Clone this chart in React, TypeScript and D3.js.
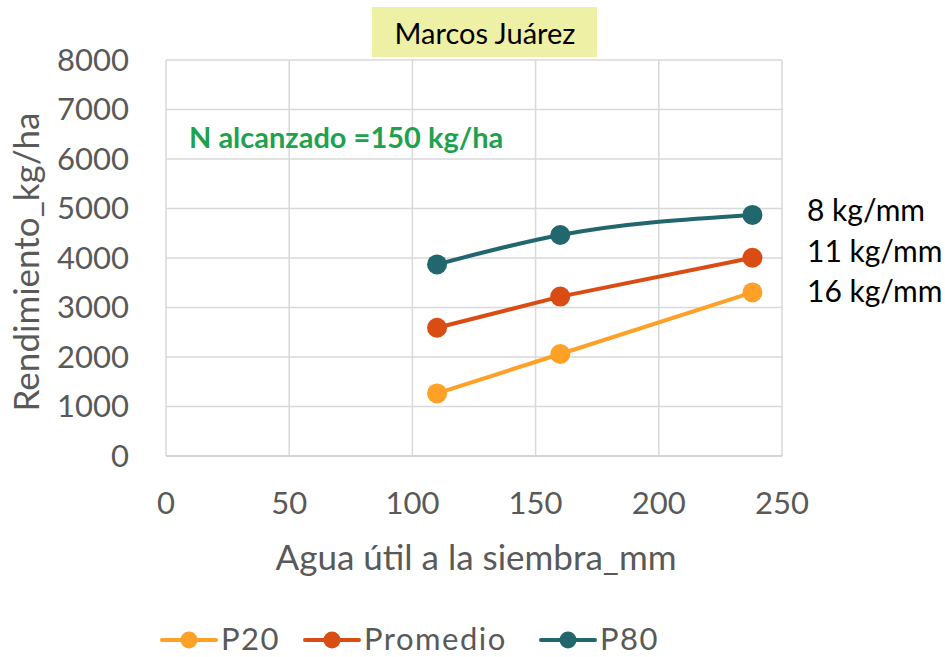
import React from "react";
import * as d3 from "d3";

const xValues = [110, 160, 238];
const p20 = [1265, 2060, 3305];
const promedio = [2590, 3220, 4005];
const p80 = [3870, 4465, 4870];
const xTicks = [0, 50, 100, 150, 200, 250];
const yTicks = [0, 1000, 2000, 3000, 4000, 5000, 6000, 7000, 8000];
const seriesNames = ["P20", "Promedio", "P80"];
const seriesColors = ["#FFA126", "#D94D14", "#22666E"];
const slopeLabels = ["8 kg/mm", "11 kg/mm", "16 kg/mm"];

const FONT = "Lato, 'Open Sans', sans-serif";

export default function App() {
  const W = 945, H = 657;
  const x = d3.scaleLinear().domain([0, 250]).range([166, 782]);
  const y = d3.scaleLinear().domain([0, 8000]).range([456, 60]);
  const data = [p20, promedio, p80];
  const curves = [d3.curveLinear, d3.curveLinear, d3.curveMonotoneX];
  const legendX = [162, 305, 541];

  return (
    <svg width={W} height={H} style={{ position: "absolute", left: 0, top: 0, background: "#fff" }} fontFamily={FONT}>
      <rect x={0} y={0} width={W} height={H} fill="#fff" />
      {/* grid */}
      {yTicks.map((t) => (
        <line key={"gy" + t} x1={x(0)} x2={x(250)} y1={y(t)} y2={y(t)} stroke="#D9D9D9" strokeWidth={1.5} />
      ))}
      {xTicks.map((t) => (
        <line key={"gx" + t} x1={x(t)} x2={x(t)} y1={y(0)} y2={y(8000)} stroke="#D9D9D9" strokeWidth={1.5} />
      ))}
      <line x1={x(0)} x2={x(250)} y1={y(0)} y2={y(0)} stroke="#D0D0D0" strokeWidth={1.5} />
      {/* tick labels */}
      {yTicks.map((t) => (
        <text key={"ty" + t} x={129} y={y(t)} dy="0.35em" textAnchor="end" fontSize={31} fill="#595959">{t}</text>
      ))}
      {xTicks.map((t) => (
        <text key={"tx" + t} x={x(t)} y={503} dy="0.35em" textAnchor="middle" fontSize={31} fill="#595959">{t}</text>
      ))}
      {/* axis titles */}
      <text x={476} y={558} dy="0.35em" textAnchor="middle" fontSize={35} fill="#595959">Agua útil a la siembra_mm</text>
      <text transform={`translate(27,262) rotate(-90)`} textAnchor="middle" dy="0.35em" fontSize={35} fill="#595959">Rendimiento_kg/ha</text>
      {/* title box */}
      <rect x={372} y={7} width={225} height={50} fill="#EEF0A6" />
      <text x={485} y={34} dy="0.35em" textAnchor="middle" fontSize={29} fill="#000">Marcos Juárez</text>
      {/* annotation */}
      <text x={189} y={138} dy="0.35em" fontSize={29} fontWeight="bold" fill="#1FA24E">N alcanzado =150 kg/ha</text>
      {/* series */}
      {data.map((vals, i) => {
        const line = d3.line<number>().x((_, j) => x(xValues[j])).y((v) => y(v)).curve(curves[i]);
        return (
          <g key={"s" + i}>
            <path d={line(vals) || ""} fill="none" stroke={seriesColors[i]} strokeWidth={4} />
            {vals.map((v, j) => (
              <circle key={j} cx={x(xValues[j])} cy={y(v)} r={10} fill={seriesColors[i]} />
            ))}
          </g>
        );
      })}
      {/* slope labels */}
      {slopeLabels.map((s, i) => (
        <text key={"sl" + i} x={807} y={[210, 251, 291][i]} dy="0.35em" fontSize={30} fill="#000">{s}</text>
      ))}
      {/* legend */}
      {seriesNames.map((n, i) => (
        <g key={"lg" + i}>
          <line x1={legendX[i]} x2={legendX[i] + 54} y1={640} y2={640} stroke={seriesColors[i]} strokeWidth={4} strokeLinecap="round" />
          <circle cx={legendX[i] + 27} cy={640} r={8.5} fill={seriesColors[i]} />
          <text x={legendX[i] + 59} y={650} fontSize={31} letterSpacing={1.5} fill="#595959">{n}</text>
        </g>
      ))}
    </svg>
  );
}
